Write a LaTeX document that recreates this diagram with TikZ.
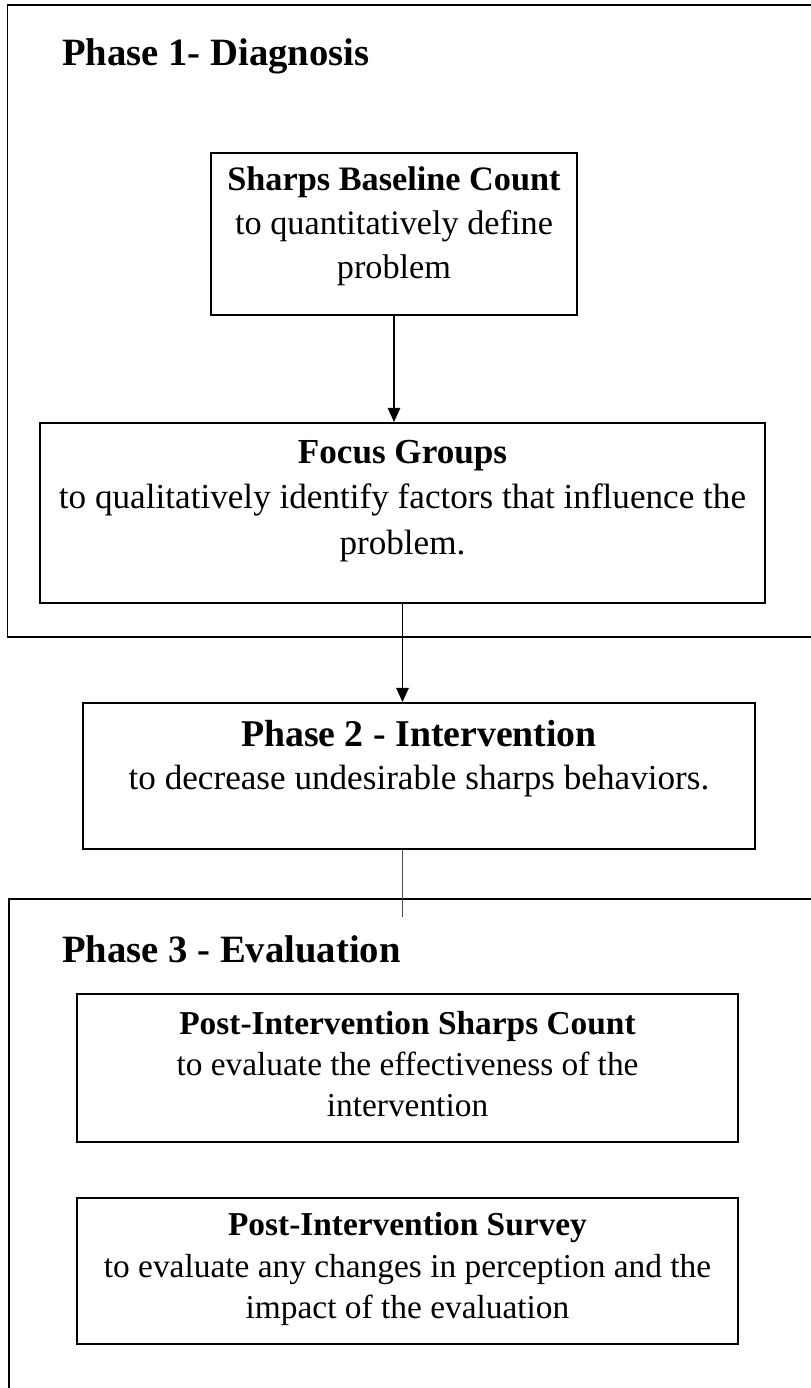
\documentclass[tikz,border=0pt]{standalone}
\usepackage{fontspec}
\setmainfont{Liberation Serif}
\usetikzlibrary{arrows.meta}
\begin{document}
\begin{tikzpicture}[
  box/.style={draw, line width=1.1pt, inner sep=0pt},
  txt/.style={align=center, inner sep=0pt, font=\fontsize{19.5}{25}\selectfont},
  hdr/.style={anchor=base west, inner sep=0pt, font=\bfseries\fontsize{22}{26}\selectfont},
  frame/.style={line width=1.1pt},
  flow/.style={line width=1pt, -{Triangle[width=7pt,length=8pt]}}
]
\useasboundingbox (0,0) rectangle (16.22,-27.76);
\clip (0,0) rectangle (16.22,-27.76);

% phase 1
\draw[frame] (0.15,-0.1) rectangle (17,-12.74);
\node[hdr] (ph1) at (1.24,-1.3) {Phase 1- Diagnosis};

\node[box, minimum width=7.32cm, minimum height=3.24cm] (base) at (7.88,-4.68) {};
\node[txt] (basetxt) at ([yshift=0.15cm]base.center) {\textbf{Sharps Baseline Count}\\to quantitatively define\\problem};

\node[box, minimum width=14.5cm, minimum height=3.6cm] (focus) at (8.05,-10.26) {};
\node[txt, font=\fontsize{20}{26}\selectfont] (focustxt) at ([yshift=0.24cm]focus.center) {\textbf{Focus Groups}\\to qualitatively identify factors that influence the\\problem.};

% phase 2
\node[box, minimum width=13.44cm, minimum height=2.92cm] (interv) at (8.38,-15.52) {};
\node[txt, font=\fontsize{20}{24.5}\selectfont] (intervtxt) at ([yshift=0.35cm]interv.center) {{\bfseries\fontsize{21.5}{24.5}\selectfont Phase 2 - Intervention}\\to decrease undesirable sharps behaviors.};

% phase 3
\draw[frame] (0.18,-17.98) rectangle (17,-29);
\node[hdr] (ph3) at (1.24,-19.24) {Phase 3 - Evaluation};

\node[box, minimum width=13.22cm, minimum height=2.96cm] (pcount) at (8.15,-21.36) {};
\node[txt, font=\fontsize{19}{23.5}\selectfont] (pcounttxt) at ([yshift=0.08cm]pcount.center) {\textbf{Post-Intervention Sharps Count}\\to evaluate the effectiveness of the\\intervention};

\node[box, minimum width=13.22cm, minimum height=2.92cm] (psurvey) at (8.15,-25.42) {};
\node[txt, font=\fontsize{19}{23.5}\selectfont] (psurveytxt) at ([yshift=0.04cm]psurvey.center) {\textbf{Post-Intervention Survey}\\to evaluate any changes in perception and the\\impact of the evaluation};

% connectors
\draw[flow] (base.south) -- (base.south |- focus.north);
\draw[flow] (focus.south) -- (focus.south |- interv.north);
\coordinate (p3in) at (8.05,-18.34);
\draw[line width=1.1pt, black!70] (focus.south |- interv.south) -- (p3in);
\end{tikzpicture}
\end{document}
